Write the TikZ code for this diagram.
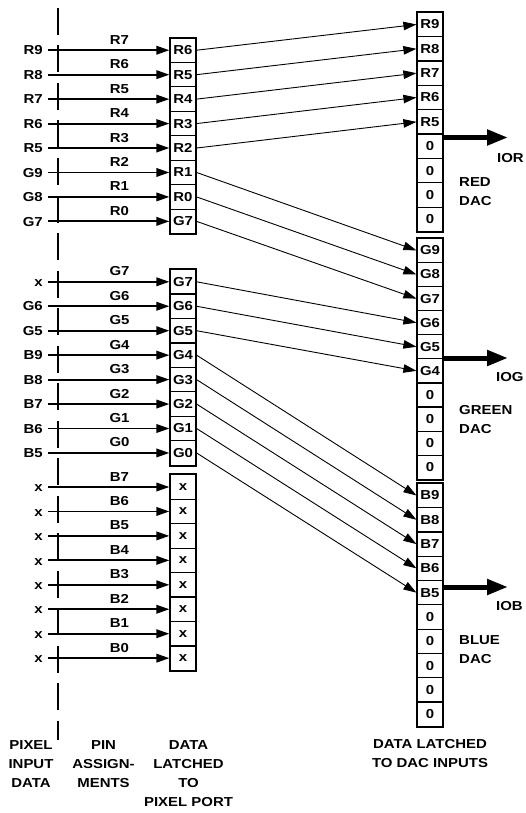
\documentclass[tikz,border=0pt]{standalone}
\usepackage{fontspec}
\setmainfont{Liberation Sans}[FakeStretch=1.15]
\usetikzlibrary{arrows.meta}
\begin{document}
\begin{tikzpicture}[x=1pt,y=-1pt,
  lab/.style={font=\fontsize{13pt}{19pt}\selectfont\bfseries, inner sep=0pt},
  cellL/.style={lab, draw, line width=1.2pt, minimum width=26pt, minimum height=24.45pt},
  cellR/.style={lab, draw, line width=1.2pt, minimum width=26pt, minimum height=#1},
  outer/.style={line width=1.7pt},
  inarrow/.style={line width=1.9pt, -{Triangle[length=13pt,width=8.5pt]}},
  conn/.style={line width=0.9pt, -{Triangle[length=13pt,width=8.5pt]}},
  bigarrow/.style={line width=5pt, -{Triangle[length=21pt,width=15pt]}},
  dashline/.style={line width=1.2pt, dash pattern=on 27pt off 10.5pt},
]
\useasboundingbox (0,0) rectangle (525,813);
\fill[white] (0,0) rectangle (525,813);

% dashed separator
\coordinate (dtop) at (58,8);
\coordinate (dbot) at (58,740);
\draw[dashline] (dtop) -- (dbot);

% group 1 (left)
\foreach \t/\inp/\pin [count=\i] in {R6/R9/R7,R5/R8/R6,R4/R7/R5,R3/R6/R4,R2/R5/R3,R1/G9/R2,R0/G8/R1,G7/G7/R0} {
  \pgfmathsetmacro\yy{50.225+24.45*(\i-1)}
  \node[cellL] (a\i) at (183,\yy) {\t};
  \node[lab, anchor=base east, inner xsep=5pt] (ia\i) at (48,{\yy+4.65}) {\inp};
  \node[lab, anchor=base] (pa\i) at (119.5,{\yy-6}) {\pin};
  \draw[inarrow] (ia\i.east |- a\i.west) -- (a\i.west);
}
\draw[outer] (a1.north west) rectangle (a8.south east);

% group 2 (left)
\foreach \t/\inp/\pin [count=\i] in {G7/x/G7,G6/G6/G6,G5/G5/G5,G4/B9/G4,G3/B8/G3,G2/B7/G2,G1/B6/G1,G0/B5/G0} {
  \pgfmathsetmacro\yy{281.8+24.45*(\i-1)}
  \node[cellL] (b\i) at (183,\yy) {\t};
  \node[lab, anchor=base east, inner xsep=5pt] (ib\i) at (48,{\yy+4.65}) {\inp};
  \node[lab, anchor=base] (pb\i) at (119.5,{\yy-6}) {\pin};
  \draw[inarrow] (ib\i.east |- b\i.west) -- (b\i.west);
}
\draw[outer] (b1.north west) rectangle (b8.south east);

% group 3 (left)
\foreach \pin [count=\i] in {B7,B6,B5,B4,B3,B2,B1,B0} {
  \pgfmathsetmacro\yy{487.0+24.45*(\i-1)}
  \node[cellL] (c\i) at (183,\yy) {x};
  \node[lab, anchor=base east, inner xsep=5pt] (ic\i) at (48,{\yy+4.65}) {x};
  \node[lab, anchor=base] (pc\i) at (119.5,{\yy-6}) {\pin};
  \draw[inarrow] (ic\i.east |- c\i.west) -- (c\i.west);
}
\draw[outer] (c1.north west) rectangle (c8.south east);

% red DAC
\foreach \t [count=\i] in {R9,R8,R7,R6,R5,0,0,0,0} {
  \node[cellR=24.35pt] (r\i) at (430,{24.475+24.35*(\i-1)}) {\t};
}
\draw[outer] (r1.north west) rectangle (r9.south east);

% green DAC
\foreach \t [count=\i] in {G9,G8,G7,G6,G5,G4,0,0,0,0} {
  \node[cellR=24.1pt] (g\i) at (430,{250.35+24.1*(\i-1)}) {\t};
}
\draw[outer] (g1.north west) rectangle (g10.south east);

% blue DAC
\foreach \t [count=\i] in {B9,B8,B7,B6,B5,0,0,0,0,0} {
  \node[cellR=24.3pt] (u\i) at (430,{495.45+24.3*(\i-1)}) {\t};
}
\draw[outer] (u1.north west) rectangle (u10.south east);

% connectors
\draw[conn] (a1.east) -- (r1.west);
\draw[conn] (a2.east) -- (r2.west);
\draw[conn] (a3.east) -- (r3.west);
\draw[conn] (a4.east) -- (r4.west);
\draw[conn] (a5.east) -- (r5.west);
\draw[conn] (a6.east) -- (g1.west);
\draw[conn] (a7.east) -- (g2.west);
\draw[conn] (a8.east) -- (g3.west);
\draw[conn] (b1.east) -- (g4.west);
\draw[conn] (b2.east) -- (g5.west);
\draw[conn] (b3.east) -- (g6.west);
\draw[conn] (b4.east) -- (u1.west);
\draw[conn] (b5.east) -- (u2.west);
\draw[conn] (b6.east) -- (u3.west);
\draw[conn] (b7.east) -- (u4.west);
\draw[conn] (b8.east) -- (u5.west);

% outputs
\coordinate (ior) at (508,137.5);
\coordinate (iog) at (508,358);
\coordinate (iob) at (508,587);
\draw[bigarrow] (r6.east |- ior) -- (ior);
\draw[bigarrow] (g6.east |- iog) -- (iog);
\draw[bigarrow] (u5.east |- iob) -- (iob);
\node[lab, anchor=north west] (tior) at (497,153) {IOR};
\node[lab, anchor=north west] (tiog) at (496,372.7) {IOG};
\node[lab, anchor=north west] (tiob) at (496,601.7) {IOB};
\node[lab, anchor=north west, align=left] (tred) at (459,177) {RED\\DAC};
\node[lab, anchor=north west, align=left] (tgreen) at (459,405) {GREEN\\DAC};
\node[lab, anchor=north west, align=left] (tblue) at (459,635) {BLUE\\DAC};

% bottom captions
\node[lab, anchor=north, align=center] (cap1) at (31,740) {PIXEL\\INPUT\\DATA};
\node[lab, anchor=north, align=center] (cap2) at (103.5,740) {PIN\\ASSIGN-\\MENTS};
\node[lab, anchor=north, align=center] (cap3) at (188.5,740) {DATA\\LATCHED\\TO\\PIXEL PORT};
\node[lab, anchor=north, align=center] (cap4) at (430,739) {DATA LATCHED\\TO DAC INPUTS};
\end{tikzpicture}
\end{document}
